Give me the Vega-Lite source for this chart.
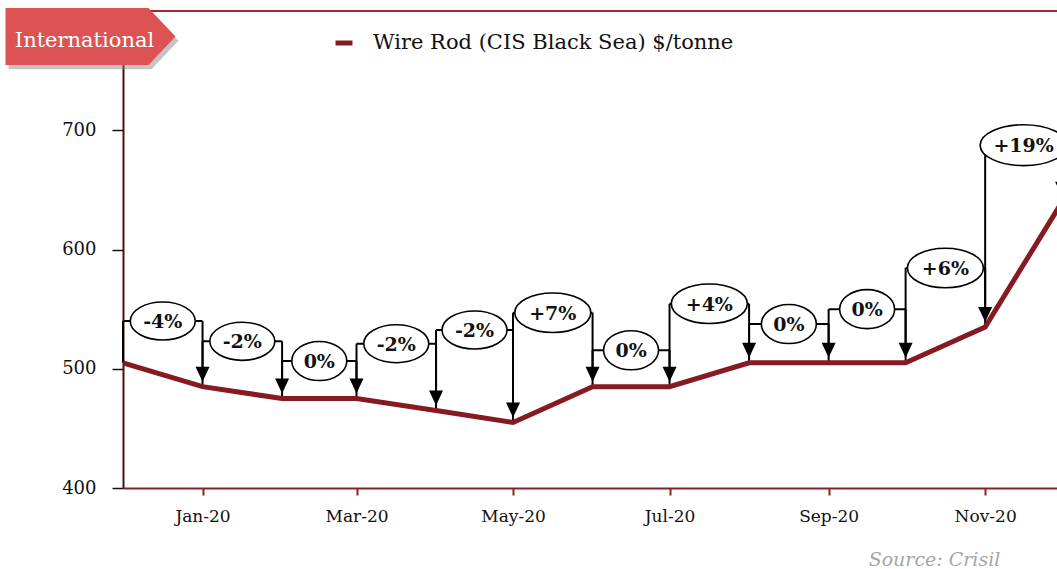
{
  "$schema": "https://vega.github.io/schema/vega-lite/v6.json",
  "width": 934,
  "height": 477,
  "autosize": {"type": "none"},
  "padding": {"left": 123, "top": 11, "right": 0, "bottom": 81},
  "background": "white",
  "config": {"view": {"stroke": null}},
  "title": {
    "text": "Source: Crisil",
    "orient": "bottom",
    "anchor": "end",
    "dx": -70,
    "offset": 27,
    "font": "DejaVu Serif",
    "fontStyle": "italic",
    "fontWeight": "normal",
    "fontSize": 19,
    "color": "#A6A6A6"
  },
  "datasets": {
    "series": [
      {"date": "2019-12-01", "price": 505, "series": "Wire Rod (CIS Black Sea) $/tonne"},
      {"date": "2020-01-01", "price": 485, "series": "Wire Rod (CIS Black Sea) $/tonne"},
      {"date": "2020-02-01", "price": 475, "series": "Wire Rod (CIS Black Sea) $/tonne"},
      {"date": "2020-03-01", "price": 475, "series": "Wire Rod (CIS Black Sea) $/tonne"},
      {"date": "2020-04-01", "price": 465, "series": "Wire Rod (CIS Black Sea) $/tonne"},
      {"date": "2020-05-01", "price": 455, "series": "Wire Rod (CIS Black Sea) $/tonne"},
      {"date": "2020-06-01", "price": 485, "series": "Wire Rod (CIS Black Sea) $/tonne"},
      {"date": "2020-07-01", "price": 485, "series": "Wire Rod (CIS Black Sea) $/tonne"},
      {"date": "2020-08-01", "price": 505, "series": "Wire Rod (CIS Black Sea) $/tonne"},
      {"date": "2020-09-01", "price": 505, "series": "Wire Rod (CIS Black Sea) $/tonne"},
      {"date": "2020-10-01", "price": 505, "series": "Wire Rod (CIS Black Sea) $/tonne"},
      {"date": "2020-11-01", "price": 535, "series": "Wire Rod (CIS Black Sea) $/tonne"},
      {"date": "2020-12-01", "price": 640, "series": "Wire Rod (CIS Black Sea) $/tonne"}
    ],
    "ann": [
      {"p": "2019-12-01", "m": "2020-01-01", "pv": 505, "v": 485, "lvl": 540, "label": "-4%"},
      {"p": "2020-01-01", "m": "2020-02-01", "pv": 485, "v": 475, "lvl": 523, "label": "-2%"},
      {"p": "2020-02-01", "m": "2020-03-01", "pv": 475, "v": 475, "lvl": 506.5, "label": "0%"},
      {"p": "2020-03-01", "m": "2020-04-01", "pv": 475, "v": 465, "lvl": 521, "label": "-2%"},
      {"p": "2020-04-01", "m": "2020-05-01", "pv": 465, "v": 455, "lvl": 532.5, "label": "-2%"},
      {"p": "2020-05-01", "m": "2020-06-01", "pv": 455, "v": 485, "lvl": 547, "label": "+7%"},
      {"p": "2020-06-01", "m": "2020-07-01", "pv": 485, "v": 485, "lvl": 515.5, "label": "0%"},
      {"p": "2020-07-01", "m": "2020-08-01", "pv": 485, "v": 505, "lvl": 554.5, "label": "+4%"},
      {"p": "2020-08-01", "m": "2020-09-01", "pv": 505, "v": 505, "lvl": 537.5, "label": "0%"},
      {"p": "2020-09-01", "m": "2020-10-01", "pv": 505, "v": 505, "lvl": 550, "label": "0%"},
      {"p": "2020-10-01", "m": "2020-11-01", "pv": 505, "v": 535, "lvl": 584.5, "label": "+6%"},
      {"p": "2020-11-01", "m": "2020-12-01", "pv": 535, "v": 640, "lvl": 687.5, "label": "+19%"}
    ]
  },
  "encoding": {
    "x": {
      "type": "temporal",
      "scale": {
        "type": "utc",
        "domain": [
          {"year": 2019, "month": 12, "date": 1, "utc": true},
          {"year": 2020, "month": 11, "date": 29, "utc": true}
        ]
      }
    },
    "y": {
      "type": "quantitative",
      "scale": {"domain": [400, 800], "nice": false, "zero": false}
    }
  },
  "layer": [
    {
      "data": {"values": [{}]},
      "mark": {"type": "rule", "color": "#9B2D2D", "strokeWidth": 2},
      "encoding": {"y": {"datum": 800, "type": "quantitative"}}
    },
    {
      "data": {"name": "ann", "format": {"parse": {"p": "date", "m": "date"}}},
      "mark": {"type": "rule", "color": "#000", "strokeWidth": 2},
      "encoding": {
        "x": {"field": "p", "type": "temporal"},
        "x2": {"field": "m"},
        "y": {"field": "lvl", "type": "quantitative"}
      }
    },
    {
      "data": {"name": "ann", "format": {"parse": {"p": "date", "m": "date"}}},
      "mark": {"type": "rule", "color": "#000", "strokeWidth": 2},
      "encoding": {
        "x": {"field": "p", "type": "temporal"},
        "y": {"field": "lvl", "type": "quantitative"},
        "y2": {"field": "pv"}
      }
    },
    {
      "data": {"name": "ann", "format": {"parse": {"p": "date", "m": "date"}}},
      "mark": {"type": "rule", "color": "#000", "strokeWidth": 2, "y2Offset": -9},
      "encoding": {
        "x": {"field": "m", "type": "temporal"},
        "y": {"field": "lvl", "type": "quantitative"},
        "y2": {"field": "v"}
      }
    },
    {
      "data": {"name": "series"},
      "mark": {"type": "line", "strokeWidth": 5, "strokeJoin": "miter", "clip": true},
      "encoding": {
        "x": {
          "field": "date",
          "type": "temporal",
          "axis": {
            "values": [
              {"year": 2020, "month": 1, "date": 1, "utc": true},
              {"year": 2020, "month": 3, "date": 1, "utc": true},
              {"year": 2020, "month": 5, "date": 1, "utc": true},
              {"year": 2020, "month": 7, "date": 1, "utc": true},
              {"year": 2020, "month": 9, "date": 1, "utc": true},
              {"year": 2020, "month": 11, "date": 1, "utc": true}
            ],
            "format": "%b-%y",
            "title": null,
            "grid": false,
            "labelFont": "DejaVu Serif",
            "labelFontSize": 17,
            "labelColor": "#111",
            "labelPadding": 13,
            "tickColor": "#8B2020",
            "tickSize": 7,
            "tickWidth": 2,
            "domainColor": "#8B2020",
            "domainWidth": 2
          }
        },
        "y": {
          "field": "price",
          "type": "quantitative",
          "axis": {
            "values": [400, 500, 600, 700],
            "title": null,
            "grid": false,
            "labelFont": "DejaVu Serif",
            "labelFontSize": 18,
            "labelColor": "#111",
            "labelPadding": 16,
            "tickColor": "#111",
            "tickSize": 11,
            "tickWidth": 1.5,
            "domainColor": "#4A1212",
            "domainWidth": 2
          }
        },
        "color": {
          "field": "series",
          "type": "nominal",
          "scale": {"range": ["#861A22"]},
          "legend": {
            "orient": "none",
            "legendX": 210,
            "legendY": 21,
            "title": null,
            "padding": 0,
            "symbolType": "stroke",
            "symbolSize": 289,
            "symbolStrokeWidth": 5,
            "labelFont": "DejaVu Serif",
            "labelFontSize": 21,
            "labelColor": "#111",
            "labelOffset": 18,
            "labelLimit": 600
          }
        }
      }
    },
    {
      "data": {"name": "ann", "format": {"parse": {"p": "date", "m": "date"}}},
      "mark": {"type": "point", "shape": "M -0.7 -2 L 0.7 -2 L 0 -0.5 Z", "size": 400, "filled": true, "color": "#000", "opacity": 1},
      "encoding": {
        "x": {"field": "m", "type": "temporal"},
        "y": {"field": "v", "type": "quantitative"}
      }
    },
    {
      "data": {"name": "ann", "format": {"parse": {"p": "date", "m": "date"}}},
      "transform": [{"filter": "datum.label == '0%'"}],
      "mark": {"type": "point", "shape": "M -1 0 A 1 0.71 0 1 1 1 0 A 1 0.71 0 1 1 -1 0 Z", "size": 3025, "filled": false, "fill": "white", "fillOpacity": 1, "stroke": "#000", "strokeWidth": 1.6, "opacity": 1},
      "encoding": {
        "x": {"field": "p", "type": "temporal", "timeUnit": "utcyearmonth", "bandPosition": 0.5},
        "y": {"field": "lvl", "type": "quantitative"}
      }
    },
    {
      "data": {"name": "ann", "format": {"parse": {"p": "date", "m": "date"}}},
      "transform": [{"filter": "indexof(datum.label, '-') == 0"}],
      "mark": {"type": "point", "shape": "M -1 0 A 1 0.585 0 1 1 1 0 A 1 0.585 0 1 1 -1 0 Z", "size": 4225, "filled": false, "fill": "white", "fillOpacity": 1, "stroke": "#000", "strokeWidth": 1.6, "opacity": 1},
      "encoding": {
        "x": {"field": "p", "type": "temporal", "timeUnit": "utcyearmonth", "bandPosition": 0.5},
        "y": {"field": "lvl", "type": "quantitative"}
      }
    },
    {
      "data": {"name": "ann", "format": {"parse": {"p": "date", "m": "date"}}},
      "transform": [{"filter": "indexof(datum.label, '+') == 0 && length(datum.label) == 3"}],
      "mark": {"type": "point", "shape": "M -1 0 A 1 0.52 0 1 1 1 0 A 1 0.52 0 1 1 -1 0 Z", "size": 5776, "filled": false, "fill": "white", "fillOpacity": 1, "stroke": "#000", "strokeWidth": 1.6, "opacity": 1},
      "encoding": {
        "x": {"field": "p", "type": "temporal", "timeUnit": "utcyearmonth", "bandPosition": 0.5},
        "y": {"field": "lvl", "type": "quantitative"}
      }
    },
    {
      "data": {"name": "ann", "format": {"parse": {"p": "date", "m": "date"}}},
      "transform": [{"filter": "length(datum.label) == 4"}],
      "mark": {"type": "point", "shape": "M -1 0 A 1 0.47 0 1 1 1 0 A 1 0.47 0 1 1 -1 0 Z", "size": 7569, "filled": false, "fill": "white", "fillOpacity": 1, "stroke": "#000", "strokeWidth": 1.6, "opacity": 1},
      "encoding": {
        "x": {"field": "p", "type": "temporal", "timeUnit": "utcyearmonth", "bandPosition": 0.5},
        "y": {"field": "lvl", "type": "quantitative"}
      }
    },
    {
      "data": {"name": "ann", "format": {"parse": {"p": "date", "m": "date"}}},
      "mark": {"type": "text", "font": "DejaVu Serif", "fontWeight": "bold", "fontSize": 19, "color": "#111", "align": "center", "baseline": "middle", "dy": 1},
      "encoding": {
        "x": {"field": "p", "type": "temporal", "timeUnit": "utcyearmonth", "bandPosition": 0.5},
        "y": {"field": "lvl", "type": "quantitative"},
        "text": {"field": "label"}
      }
    },
    {
      "data": {"values": [{}]},
      "mark": {"type": "point", "shape": "M -1 -0.335 L 0.682 -0.335 L 1 0 L 0.682 0.335 L -1 0.335 Z", "size": 28900, "filled": true, "color": "#7F7F7F", "opacity": 0.45},
      "encoding": {
        "x": {"datum": {"year": 2019, "month": 11, "date": 19, "hours": 12, "utc": true}, "type": "temporal"},
        "y": {"datum": 775, "type": "quantitative"}
      }
    },
    {
      "data": {"values": [{}]},
      "mark": {"type": "point", "shape": "M -1 -0.335 L 0.682 -0.335 L 1 0 L 0.682 0.335 L -1 0.335 Z", "size": 28900, "filled": true, "color": "#DD5252", "opacity": 1},
      "encoding": {
        "x": {"datum": {"year": 2019, "month": 11, "date": 18, "hours": 8, "utc": true}, "type": "temporal"},
        "y": {"datum": 778.6, "type": "quantitative"}
      }
    },
    {
      "data": {"values": [{}]},
      "mark": {"type": "text", "text": "International", "font": "DejaVu Serif", "fontSize": 21, "color": "#FFFFFF", "align": "center", "baseline": "middle"},
      "encoding": {
        "x": {"datum": {"year": 2019, "month": 11, "date": 16, "utc": true}, "type": "temporal"},
        "y": {"datum": 774.5, "type": "quantitative"}
      }
    }
  ]
}
